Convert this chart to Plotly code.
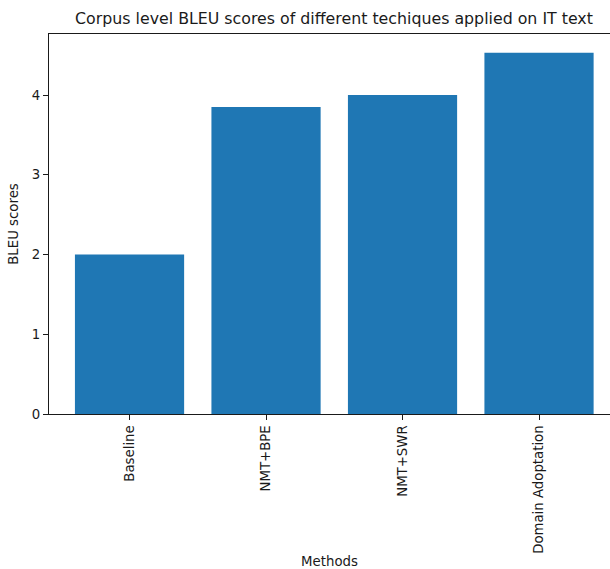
import plotly.graph_objects as go

# BLEU scores per technique
methods = ["Baseline", "NMT+BPE", "NMT+SWR", "Domain Adoptation"]
bleu_scores = [2.0, 3.85, 4.0, 4.53]
y_ticks = [0, 1, 2, 3, 4]

font_family = "DejaVu Sans"
ink = "#1a1a1a"

fig = go.Figure(
    go.Bar(
        x=methods,
        y=bleu_scores,
        width=0.8,
        marker=dict(color="#1f77b4", line=dict(width=0)),
    )
)

fig.update_layout(
    width=610,
    height=569,
    margin=dict(l=49, r=0, t=34, b=155),
    paper_bgcolor="white",
    plot_bgcolor="white",
    showlegend=False,
    font=dict(family=font_family, size=13, color=ink),
    title=dict(
        text="Corpus level BLEU scores of different techiques applied on IT text",
        x=334 / 610,
        xanchor="center",
        y=1 - 18 / 569,
        yanchor="middle",
        font=dict(family=font_family, size=15.8, color=ink),
    ),
)

fig.update_xaxes(
    range=[-0.59, 3.52],
    tickangle=-90,
    ticks="outside",
    ticklen=5,
    tickwidth=1,
    tickcolor=ink,
    showline=True,
    linecolor=ink,
    linewidth=1,
    mirror=True,
    showgrid=False,
    tickfont=dict(size=13.3),
    title=dict(text="Methods", standoff=6, font=dict(size=13.3)),
)

fig.update_yaxes(
    range=[0, 4.765],
    tickvals=y_ticks,
    ticks="outside",
    ticklen=5,
    tickwidth=1,
    tickcolor=ink,
    showline=True,
    linecolor=ink,
    linewidth=1,
    mirror=False,
    showgrid=False,
    zeroline=False,
    tickfont=dict(size=13.3),
    title=dict(text="BLEU scores", standoff=10, font=dict(size=13.3)),
)

fig.write_html("out.html")
